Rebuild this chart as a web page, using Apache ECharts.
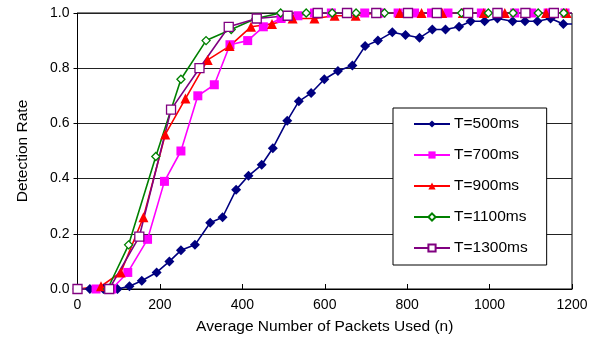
<!DOCTYPE html>
<html>
<head>
<meta charset="utf-8">
<script src="https://cdn.jsdelivr.net/npm/echarts@6/dist/echarts.min.js"></script>
<style>
html,body{margin:0;padding:0;background:#fff;}
#chart{width:599px;height:351px;}
</style>
</head>
<body>
<div id="chart"></div>
<script>
const seriesNames = ['T=500ms', 'T=700ms', 'T=900ms', 'T=1100ms', 'T=1300ms'];

const t500X = [0, 30, 63, 97, 126, 156, 192, 223, 251, 285, 322, 352, 385, 415, 447, 474, 509, 537, 567, 599, 632, 667, 698, 729, 764, 796, 830, 861, 893, 926, 954, 988, 1019, 1056, 1086, 1116, 1148, 1179, 1200];
const t500Y = [0, 0, 0, 0, 0.01, 0.03, 0.06, 0.10, 0.14, 0.16, 0.24, 0.26, 0.36, 0.41, 0.45, 0.51, 0.61, 0.68, 0.71, 0.76, 0.79, 0.81, 0.88, 0.90, 0.93, 0.92, 0.91, 0.94, 0.94, 0.95, 0.97, 0.97, 0.98, 0.97, 0.97, 0.97, 0.98, 0.96, 0.96];

const t700X = [0, 45, 83, 122, 170, 211, 251, 292, 332, 370, 413, 451, 494, 535, 575, 616, 656, 697, 737, 778, 818, 859, 899, 940, 980, 1021, 1061, 1102, 1142, 1183];
const t700Y = [0, 0, 0, 0.06, 0.18, 0.39, 0.50, 0.70, 0.74, 0.885, 0.90, 0.95, 0.98, 0.99, 1, 1, 1, 1, 1, 1, 1, 1, 1, 1, 1, 1, 1, 1, 1, 1];

const t900X = [0, 57, 105, 160, 213, 262, 316, 369, 421, 472, 522, 575, 624, 675, 726, 782, 835, 885, 935, 986, 1037, 1086, 1137, 1187];
const t900Y = [0, 0.01, 0.06, 0.26, 0.56, 0.69, 0.83, 0.88, 0.95, 0.96, 0.98, 0.98, 0.99, 0.99, 1, 1, 1, 1, 1, 1, 1, 1, 1, 1];

const t1100X = [0, 73, 124, 190, 251, 312, 373, 433, 493, 555, 618, 676, 745, 802, 872, 932, 997, 1057, 1118, 1180];
const t1100Y = [0, 0, 0.16, 0.48, 0.76, 0.90, 0.94, 0.98, 1, 1, 1, 1, 1, 1, 1, 1, 1, 1, 1, 1];

const t1300X = [0, 77, 150, 227, 296, 367, 435, 510, 583, 654, 725, 802, 872, 948, 1019, 1087, 1156, 1200];
const t1300Y = [0, 0, 0.19, 0.65, 0.80, 0.95, 0.98, 0.99, 1, 1, 1, 1, 1, 1, 1, 1, 1, 1];

const xMin = 0, xMax = 1200, xStep = 200;
const yMin = 0, yMax = 1, yStep = 0.2;

const FONT = '"Liberation Sans", Arial, sans-serif';

function pairs(xs, ys, trailingNoSymbol) {
  return xs.map((x, i) => {
    const item = { value: [x, ys[i]] };
    if (trailingNoSymbol && i === xs.length - 1) item.symbol = 'none';
    return item;
  });
}

const styles = [
  { color: '#000080', symbol: 'diamond', size: 10, fill: '#000080', width: 1.6, trail: true },
  { color: '#FF00FF', symbol: 'rect', size: 9, fill: '#FF00FF', width: 1.6, trail: false },
  { color: '#FF0000', symbol: 'triangle', size: 10, fill: '#FF0000', width: 1.6, trail: false },
  { color: '#008000', symbol: 'diamond', size: 8, fill: '#ffffff', width: 1.6, trail: false },
  { color: '#800080', symbol: 'rect', size: 9, fill: '#ffffff', width: 1.6, trail: true }
];
const xsAll = [t500X, t700X, t900X, t1100X, t1300X];
const ysAll = [t500Y, t700Y, t900Y, t1100Y, t1300Y];

const series = seriesNames.map((name, k) => {
  const s = styles[k];
  return {
    name: name,
    type: 'line',
    data: pairs(xsAll[k], ysAll[k], s.trail),
    symbol: s.symbol,
    symbolSize: s.size,
    showAllSymbol: true,
    clip: true,
    lineStyle: { color: s.color, width: s.width },
    itemStyle: { color: s.fill, borderColor: s.color, borderWidth: s.fill === '#ffffff' ? 1.3 : 0 },
    emphasis: { disabled: true },
    animation: false
  };
});

const chart = echarts.init(document.getElementById('chart'), null, { renderer: 'canvas' });
chart.setOption({
  animation: false,
  backgroundColor: '#ffffff',
  grid: {
    left: 77.5, right: 27, top: 13, bottom: 62,
    show: true, borderColor: '#000', borderWidth: 1, backgroundColor: 'transparent'
  },
  legend: {
    orient: 'vertical',
    left: 393, top: 108,
    padding: [8, 19, 9, 20],
    itemWidth: 36, itemHeight: 9, itemGap: 15,
    backgroundColor: '#ffffff',
    borderColor: '#000', borderWidth: 1,
    textStyle: { fontFamily: FONT, fontSize: 15.5, color: '#000', padding: [0, 0, 0, -1] },
    data: seriesNames
  },
  xAxis: {
    type: 'value',
    min: xMin, max: xMax, interval: xStep,
    name: 'Average Number of Packets Used (n)',
    nameLocation: 'middle', nameGap: 30,
    nameTextStyle: { fontFamily: FONT, fontSize: 15.5, color: '#000' },
    axisLine: { show: true, lineStyle: { color: '#000', width: 1 } },
    axisTick: { show: true, inside: true, length: 5, lineStyle: { color: '#000' } },
    axisLabel: { fontFamily: FONT, fontSize: 14, color: '#000', margin: 9, formatter: v => String(v) },
    splitLine: { show: false }
  },
  yAxis: {
    type: 'value',
    min: yMin, max: yMax, interval: yStep,
    name: 'Detection Rate',
    nameLocation: 'middle', nameGap: 47,
    nameTextStyle: { fontFamily: FONT, fontSize: 15.5, color: '#000' },
    axisLine: { show: true, lineStyle: { color: '#000', width: 1 } },
    axisTick: { show: true, inside: false, length: 4, lineStyle: { color: '#000' } },
    axisLabel: { fontFamily: FONT, fontSize: 14, color: '#000', margin: 8, formatter: v => v.toFixed(1) },
    splitLine: { show: true, lineStyle: { color: '#222', width: 1 } }
  },
  series: series
});
</script>
</body>
</html>
